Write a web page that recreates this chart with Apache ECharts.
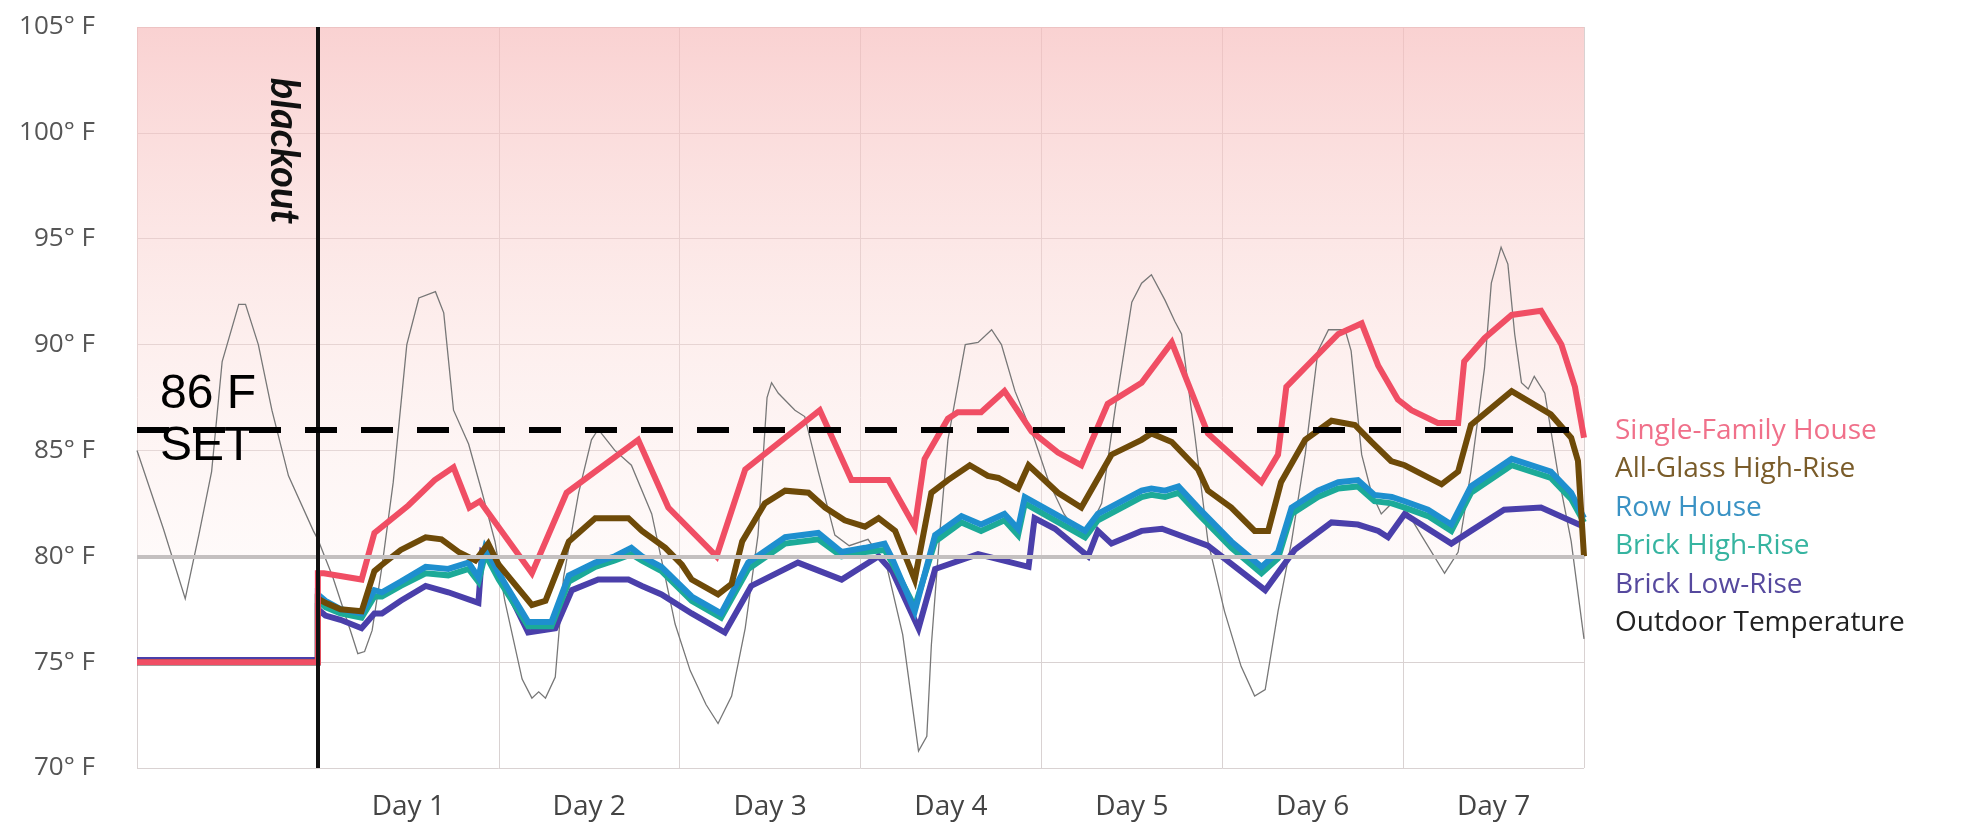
<!DOCTYPE html>
<html>
<head>
<meta charset="utf-8">
<title>Indoor temperatures after a summer blackout</title>
<script src="https://cdn.jsdelivr.net/npm/echarts@6/dist/echarts.min.js"></script>
<style>
  html, body { margin: 0; padding: 0; background: #fff; }
  #main { width: 1963px; height: 825px; }
</style>
</head>
<body>
<div id="main"></div>
<script>
// x = hours since the blackout (day before = -24..0), y = °F
const dayLabels = ['', 'Day 1', 'Day 2', 'Day 3', 'Day 4', 'Day 5', 'Day 6', 'Day 7'];
const setPoint = 86;

const singleFamily = [
  [-24, 75], [0, 75], [0, 79.2], [0.8, 79.2], [5.8, 78.9], [7.5, 81.1], [12, 82.4], [15.5, 83.6],
  [18, 84.2], [20.1, 82.3], [21.5, 82.6], [28.4, 79.2], [33, 83], [42.5, 85.5], [46.5, 82.3],
  [52.9, 80], [56.7, 84.1], [66.6, 86.9], [70.8, 83.6], [75.7, 83.6], [79.2, 81.4], [80.5, 84.6],
  [83.6, 86.5], [84.9, 86.8], [88, 86.8], [91.1, 87.8], [94.7, 85.9], [98.2, 84.9], [101.3, 84.3],
  [104.8, 87.2], [109.3, 88.2], [113.3, 90.1], [118.1, 85.8], [121.2, 84.8], [125.2, 83.5],
  [127.4, 84.8], [128.5, 88], [131.8, 89.2], [135.4, 90.5], [138.5, 91], [140.7, 89], [143.3, 87.4],
  [145.1, 86.9], [148.6, 86.3], [151.3, 86.3], [152.1, 89.2], [154.8, 90.3], [158.4, 91.4],
  [162.3, 91.6], [165, 90], [166.8, 88], [168, 85.6]
];
const allGlass = [
  [-24, 75], [0, 75], [0, 78], [1, 77.8], [3, 77.5], [5.8, 77.4], [7.5, 79.3], [8.5, 79.6], [11, 80.3],
  [14.3, 80.9], [16.4, 80.8], [18.7, 80.2], [20.9, 79.8], [22.6, 80.6], [24, 79.6], [28.4, 77.7],
  [30.2, 77.9], [33.3, 80.7], [36.8, 81.8], [41.2, 81.8], [43, 81.2], [46.1, 80.4], [48.3, 79.6],
  [49.6, 78.9], [53.1, 78.2], [54.9, 78.7], [56.3, 80.7], [59.3, 82.5], [62, 83.1], [65.1, 83],
  [67.3, 82.3], [69.9, 81.7], [72.6, 81.4], [74.4, 81.8], [76.6, 81.2], [79.2, 78.9], [81.4, 83],
  [83.6, 83.6], [86.5, 84.3], [88.9, 83.8], [90.3, 83.7], [92.9, 83.2], [94.3, 84.3], [98.2, 83],
  [101.3, 82.3], [105.3, 84.8], [109.3, 85.5], [110.6, 85.8], [113.3, 85.4], [116.8, 84.1],
  [118.1, 83.1], [121.2, 82.3], [124.3, 81.2], [126.1, 81.2], [127.8, 83.5], [131, 85.5],
  [134.5, 86.4], [137.6, 86.2], [139.8, 85.4], [142.4, 84.5], [144.2, 84.3], [149.1, 83.4],
  [151.3, 84], [153, 86.2], [158.4, 87.8], [163.6, 86.7], [166.3, 85.6], [167.2, 84.5], [168, 80]
];
const rowHouse = [
  [-24, 75], [0, 75], [0, 78.2], [1, 77.9], [3, 77.5], [5.8, 77.3], [7.5, 78.4], [8.5, 78.3], [11, 78.8],
  [14.3, 79.5], [17.3, 79.4], [20, 79.7], [21.3, 79], [22.2, 80.4], [24, 79.2], [27.9, 76.9], [31, 76.9],
  [33.3, 79.1], [36.8, 79.7], [39.4, 80], [41.6, 80.4], [43, 80], [45.6, 79.5], [49.6, 78.1],
  [53.5, 77.3], [57.1, 79.7], [62, 80.9], [66.4, 81.1], [69.5, 80.2], [72.6, 80.4], [75.2, 80.6],
  [76.2, 79.9], [79.2, 77.4], [81.9, 81], [85.4, 81.9], [88, 81.5], [91.1, 82], [92.9, 81.3],
  [93.8, 82.8], [97.8, 82], [101.8, 81.2], [103.5, 82], [109.3, 83.1], [110.6, 83.2], [112.4, 83.1],
  [114.2, 83.3], [116.8, 82.3], [121.2, 80.7], [125.2, 79.5], [127.4, 80.2], [129.2, 82.3],
  [132.7, 83.1], [135.4, 83.5], [138, 83.6], [140.2, 82.9], [142.5, 82.8], [144.2, 82.6],
  [147.3, 82.2], [150.4, 81.5], [153, 83.3], [158.4, 84.6], [163.6, 84], [166.3, 83], [168, 81.8]
];
const brickHighRise = [
  [-24, 75], [0, 75], [0, 77.9], [1, 77.6], [3, 77.3], [5.8, 77.1], [7.5, 78.1], [8.5, 78.1], [11, 78.6],
  [14.3, 79.2], [17.3, 79.1], [20, 79.4], [21.3, 78.8], [22.2, 80.1], [24, 78.9], [27.9, 76.7],
  [31, 76.7], [33.3, 78.8], [36.8, 79.5], [39.4, 79.8], [41.6, 80.1], [43, 79.8], [45.6, 79.3],
  [49.6, 77.9], [53.5, 77.1], [57.1, 79.4], [62, 80.6], [66.4, 80.8], [69.5, 80], [72.6, 80.2],
  [75.2, 80.3], [76.2, 79.7], [79.2, 77.6], [81.9, 80.7], [85.4, 81.6], [88, 81.2], [91.1, 81.7],
  [92.9, 81], [93.8, 82.5], [97.8, 81.7], [101.8, 80.9], [103.5, 81.7], [109.3, 82.8], [110.6, 82.9],
  [112.4, 82.8], [114.2, 83], [116.8, 82], [121.2, 80.4], [125.2, 79.2], [127.4, 79.9], [129.2, 82],
  [132.7, 82.8], [135.4, 83.2], [138, 83.3], [140.2, 82.6], [142.5, 82.5], [144.2, 82.3],
  [147.3, 81.9], [150.4, 81.2], [153, 83], [158.4, 84.3], [163.6, 83.7], [166.3, 82.7], [168, 81.6]
];
const brickLowRise = [
  [-24, 75.1], [0, 75.1], [0, 77.5], [1, 77.2], [3, 77], [5.8, 76.6], [7.5, 77.3], [8.5, 77.3], [11, 77.9],
  [14.3, 78.6], [17.3, 78.3], [21.3, 77.8], [21.8, 80.2], [23.1, 79.9], [27.9, 76.4], [31.5, 76.6],
  [33.7, 78.4], [37.2, 78.9], [41.2, 78.9], [43, 78.6], [45.6, 78.2], [49.6, 77.3], [54, 76.4],
  [57.5, 78.6], [63.7, 79.7], [69.5, 78.9], [74.4, 80], [76.2, 79.3], [79.7, 76.6], [81.9, 79.4],
  [87.6, 80.1], [94.3, 79.5], [95.1, 81.8], [97.8, 81.3], [102.2, 80], [103.5, 81.2], [105.3, 80.6],
  [109.3, 81.2], [112, 81.3], [118.1, 80.5], [125.7, 78.4], [129.6, 80.3], [134.5, 81.6], [138, 81.5],
  [140.7, 81.2], [142, 80.9], [144.2, 82], [150.4, 80.6], [153, 81.2], [157.4, 82.2], [162.3, 82.3],
  [168, 81.4]
];
const outdoor = [
  [-24, 85], [-20.5, 81.3], [-17.6, 78], [-15.8, 81], [-14.1, 84], [-12.7, 89.2], [-10.5, 91.9],
  [-9.6, 91.9], [-7.9, 90], [-6.1, 86.9], [-3.9, 83.8], [-0.6, 81.2], [0, 80.8], [2, 79], [4.4, 76.4],
  [5.3, 75.4], [6.2, 75.5], [7.2, 76.5], [8.5, 79.5], [10, 83.5], [11.8, 90], [13.4, 92.2],
  [15.6, 92.5], [16.7, 91.5], [18, 86.9], [20, 85.3], [21.8, 83], [23.5, 80.7], [24.8, 77.9],
  [27.1, 74.2], [28.4, 73.3], [29.3, 73.6], [30.2, 73.3], [31.5, 74.3], [32.6, 79], [34.6, 83],
  [36.3, 85.5], [37.2, 86], [39.4, 85], [41.6, 84.3], [44.3, 82], [46.1, 79], [47.4, 76.8],
  [49.4, 74.6], [51.5, 73], [53.1, 72.1], [54.9, 73.4], [56.7, 76.6], [58.4, 81], [59.6, 87.5],
  [60.2, 88.2], [61.1, 87.7], [63.3, 86.9], [64.6, 86.6], [66.4, 84], [68.6, 81], [70.5, 80.5],
  [73, 80.8], [75.5, 79.5], [77.6, 76.3], [79.7, 70.8], [80.8, 71.5], [81.4, 75.8], [82.5, 81],
  [83.6, 85.5], [85.9, 90], [87.6, 90.1], [89.4, 90.7], [90.7, 90], [92.5, 87.8], [95.1, 85.5],
  [97, 83.5], [99, 82], [101, 81], [102.2, 81.2], [104, 82.5], [105.8, 87], [108, 92], [109.3, 92.9],
  [110.6, 93.3], [112.4, 92.1], [113.7, 91.1], [114.6, 90.5], [115.5, 88], [116.4, 85.6],
  [118.1, 80.7], [120.3, 77.4], [122.5, 74.8], [124.3, 73.4], [125.7, 73.7], [127.4, 77.4],
  [129.2, 80.7], [131, 84.8], [132.7, 89.7], [134.1, 90.7], [136.3, 90.7], [137.1, 89.7],
  [138.5, 84.8], [139.8, 83], [141.1, 82], [142.5, 82.5], [144.2, 82.3], [146.4, 81], [149.5, 79.2],
  [151.3, 80.2], [153, 84], [154.8, 88.9], [155.7, 92.9], [157, 94.6], [157.9, 93.8], [158.8, 90.5],
  [159.7, 88.2], [160.6, 87.9], [161.4, 88.5], [162.8, 87.7], [164.5, 84], [166.3, 80.7], [168, 76.1]
];

const chart = echarts.init(document.getElementById('main'));
const font = "'Open Sans', sans-serif";

function lineSeries(name, data, color, width, z) {
  return {
    name: name,
    type: 'line',
    data: data,
    xAxisIndex: 0,
    symbol: 'none',
    z: z,
    lineStyle: { color: color, width: width, join: 'miter' },
    itemStyle: { color: color }
  };
}

const option = {
  animation: false,
  backgroundColor: '#fff',
  grid: { left: 137, right: 379, top: 27, bottom: 57 },
  xAxis: [
    {
      type: 'value', min: -24, max: 168, interval: 24,
      axisLine: { show: false }, axisTick: { show: false }, axisLabel: { show: false },
      splitLine: { show: true, lineStyle: { color: '#d9d2d2', width: 1 } }
    },
    {
      type: 'category', data: dayLabels, boundaryGap: true, position: 'bottom',
      axisLine: { show: false }, axisTick: { show: false }, splitLine: { show: false },
      axisLabel: { interval: 0, margin: 25, fontSize: 28, color: '#444', fontFamily: font }
    }
  ],
  yAxis: {
    type: 'value', min: 70, max: 105, interval: 5,
    axisLine: { show: false }, axisTick: { show: false },
    axisLabel: { formatter: '{value}° F', margin: 42, fontSize: 26, color: '#555', fontFamily: font },
    splitLine: { lineStyle: { color: '#d9d2d2', width: 1 } }
  },
  legend: {
    orient: 'vertical', left: 1604, top: 412, itemGap: 10.5,
    itemWidth: 0, itemHeight: 0,
    itemStyle: { opacity: 0 }, lineStyle: { opacity: 0 },
    textStyle: { fontSize: 28, fontFamily: font },
    data: [
      { name: 'Single-Family House', textStyle: { color: '#f0708a' } },
      { name: 'All-Glass High-Rise', textStyle: { color: '#7a5c2a' } },
      { name: 'Row House', textStyle: { color: '#3a92c4' } },
      { name: 'Brick High-Rise', textStyle: { color: '#36b4a0' } },
      { name: 'Brick Low-Rise', textStyle: { color: '#56499e' } },
      { name: 'Outdoor Temperature', textStyle: { color: '#222' } }
    ]
  },
  graphic: [
    {
      type: 'text', x: 284, y: 151, rotation: -Math.PI / 2, z: 100,
      style: { text: 'blackout', fill: '#111', font: "italic bold 40px Lato, sans-serif",
               align: 'center', verticalAlign: 'middle' }
    },
    {
      type: 'text', x: 160, y: 395, z: 100,
      style: { text: '86 F', fill: '#000', font: "48px 'Liberation Sans', Arial, sans-serif",
               align: 'left', verticalAlign: 'middle' }
    },
    {
      type: 'text', x: 160, y: 447, z: 100,
      style: { text: 'SET', fill: '#000', font: "48px 'Liberation Sans', Arial, sans-serif",
               align: 'left', verticalAlign: 'middle' }
    }
  ],
  series: [
    // pink heat zone, the 80°F rule and the blackout moment
    {
      type: 'line', data: [], z: 1, silent: true,
      markArea: {
        silent: true,
        itemStyle: {
          color: new echarts.graphic.LinearGradient(0, 0, 0, 1, [
            { offset: 0, color: 'rgba(247,188,188,0.68)' },
            { offset: 0.6, color: 'rgba(250,215,212,0.4)' },
            { offset: 1, color: 'rgba(253,238,236,0.3)' }
          ])
        },
        data: [[{ yAxis: 80 }, { yAxis: 105 }]]
      },
      markLine: {
        silent: true, symbol: 'none', label: { show: false },
        data: [
          { yAxis: 80, lineStyle: { color: '#c4c0c0', width: 4, type: 'solid' } },
          { xAxis: 0, lineStyle: { color: '#111', width: 4, type: 'solid' } }
        ]
      }
    },
    lineSeries('Outdoor Temperature', outdoor, '#777', 1.3, 2),
    lineSeries('Brick Low-Rise', brickLowRise, '#4a3faa', 6, 3),
    lineSeries('Brick High-Rise', brickHighRise, '#1caa98', 6, 3),
    lineSeries('Row House', rowHouse, '#1e8fcf', 6, 3),
    lineSeries('All-Glass High-Rise', allGlass, '#6e4a08', 6, 3),
    lineSeries('Single-Family House', singleFamily, '#f04e64', 6, 3),
    // set point
    {
      type: 'line', data: [], z: 10, silent: true,
      markLine: {
        silent: true, symbol: 'none', label: { show: false },
        lineStyle: { color: '#000', width: 6, type: [32, 24] },
        data: [{ yAxis: setPoint }]
      }
    }
  ]
};

chart.setOption(option);
</script>
</body>
</html>
